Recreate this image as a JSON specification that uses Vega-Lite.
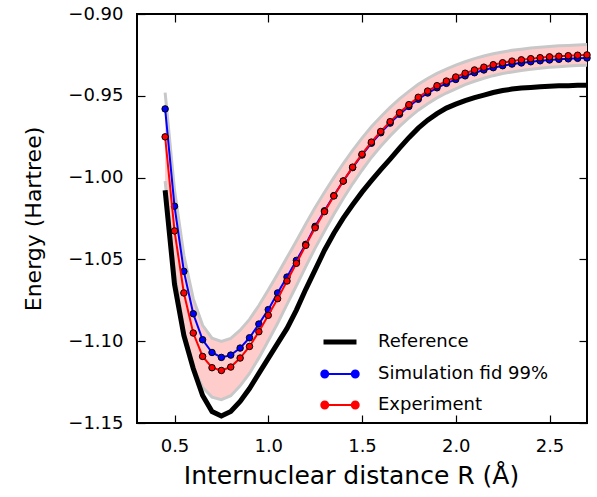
{
  "$schema": "https://vega.github.io/schema/vega-lite/v6.json",
  "autosize": "none",
  "padding": {"left": 137, "top": 14, "right": 10, "bottom": 74},
  "width": 450,
  "height": 409,
  "background": "white",
  "config": {
    "font": "DejaVu Sans",
    "view": {"stroke": "black", "strokeWidth": 2},
    "axis": {"grid": false, "domain": false, "tickColor": "black", "tickWidth": 1.2, "labelColor": "black", "titleColor": "black", "labelFont": "DejaVu Sans", "titleFont": "DejaVu Sans", "titleFontWeight": "normal"}
  },
  "datasets": {
    "curves": [
      {"R": 0.45, "series": "Experiment", "E": -0.9751}, {"R": 0.5, "series": "Experiment", "E": -1.0326}, {"R": 0.55, "series": "Experiment", "E": -1.0705}, {"R": 0.6, "series": "Experiment", "E": -1.095}, {"R": 0.65, "series": "Experiment", "E": -1.1093}, {"R": 0.7, "series": "Experiment", "E": -1.1162}, {"R": 0.75, "series": "Experiment", "E": -1.1179}, {"R": 0.8, "series": "Experiment", "E": -1.1158}, {"R": 0.85, "series": "Experiment", "E": -1.1103}, {"R": 0.9, "series": "Experiment", "E": -1.1032}, {"R": 0.95, "series": "Experiment", "E": -1.0942}, {"R": 1.0, "series": "Experiment", "E": -1.0842}, {"R": 1.05, "series": "Experiment", "E": -1.074}, {"R": 1.1, "series": "Experiment", "E": -1.0632}, {"R": 1.15, "series": "Experiment", "E": -1.0524}, {"R": 1.2, "series": "Experiment", "E": -1.0414}, {"R": 1.25, "series": "Experiment", "E": -1.0307}, {"R": 1.3, "series": "Experiment", "E": -1.0208}, {"R": 1.35, "series": "Experiment", "E": -1.0112}, {"R": 1.4, "series": "Experiment", "E": -1.0021}, {"R": 1.45, "series": "Experiment", "E": -0.9936}, {"R": 1.5, "series": "Experiment", "E": -0.9857}, {"R": 1.55, "series": "Experiment", "E": -0.9783}, {"R": 1.6, "series": "Experiment", "E": -0.9718}, {"R": 1.65, "series": "Experiment", "E": -0.9658}, {"R": 1.7, "series": "Experiment", "E": -0.9603}, {"R": 1.75, "series": "Experiment", "E": -0.9554}, {"R": 1.8, "series": "Experiment", "E": -0.9509}, {"R": 1.85, "series": "Experiment", "E": -0.9471}, {"R": 1.9, "series": "Experiment", "E": -0.9438}, {"R": 1.95, "series": "Experiment", "E": -0.941}, {"R": 2.0, "series": "Experiment", "E": -0.9385}, {"R": 2.05, "series": "Experiment", "E": -0.9362}, {"R": 2.1, "series": "Experiment", "E": -0.9342}, {"R": 2.15, "series": "Experiment", "E": -0.9325}, {"R": 2.2, "series": "Experiment", "E": -0.931}, {"R": 2.25, "series": "Experiment", "E": -0.9298}, {"R": 2.3, "series": "Experiment", "E": -0.9288}, {"R": 2.35, "series": "Experiment", "E": -0.928}, {"R": 2.4, "series": "Experiment", "E": -0.9273}, {"R": 2.45, "series": "Experiment", "E": -0.9267}, {"R": 2.5, "series": "Experiment", "E": -0.9262}, {"R": 2.55, "series": "Experiment", "E": -0.9258}, {"R": 2.6, "series": "Experiment", "E": -0.9255}, {"R": 2.65, "series": "Experiment", "E": -0.9252}, {"R": 2.7, "series": "Experiment", "E": -0.925},
      {"R": 0.45, "series": "Simulation fid 99%", "E": -0.958}, {"R": 0.5, "series": "Simulation fid 99%", "E": -1.0175}, {"R": 0.55, "series": "Simulation fid 99%", "E": -1.0573}, {"R": 0.6, "series": "Simulation fid 99%", "E": -1.0832}, {"R": 0.65, "series": "Simulation fid 99%", "E": -1.0991}, {"R": 0.7, "series": "Simulation fid 99%", "E": -1.1069}, {"R": 0.75, "series": "Simulation fid 99%", "E": -1.1099}, {"R": 0.8, "series": "Simulation fid 99%", "E": -1.1085}, {"R": 0.85, "series": "Simulation fid 99%", "E": -1.1042}, {"R": 0.9, "series": "Simulation fid 99%", "E": -1.0979}, {"R": 0.95, "series": "Simulation fid 99%", "E": -1.0895}, {"R": 1.0, "series": "Simulation fid 99%", "E": -1.0807}, {"R": 1.05, "series": "Simulation fid 99%", "E": -1.0705}, {"R": 1.1, "series": "Simulation fid 99%", "E": -1.0608}, {"R": 1.15, "series": "Simulation fid 99%", "E": -1.0506}, {"R": 1.2, "series": "Simulation fid 99%", "E": -1.0408}, {"R": 1.25, "series": "Simulation fid 99%", "E": -1.0298}, {"R": 1.3, "series": "Simulation fid 99%", "E": -1.0203}, {"R": 1.35, "series": "Simulation fid 99%", "E": -1.011}, {"R": 1.4, "series": "Simulation fid 99%", "E": -1.0021}, {"R": 1.45, "series": "Simulation fid 99%", "E": -0.9939}, {"R": 1.5, "series": "Simulation fid 99%", "E": -0.9862}, {"R": 1.55, "series": "Simulation fid 99%", "E": -0.979}, {"R": 1.6, "series": "Simulation fid 99%", "E": -0.9726}, {"R": 1.65, "series": "Simulation fid 99%", "E": -0.9667}, {"R": 1.7, "series": "Simulation fid 99%", "E": -0.9613}, {"R": 1.75, "series": "Simulation fid 99%", "E": -0.9565}, {"R": 1.8, "series": "Simulation fid 99%", "E": -0.9521}, {"R": 1.85, "series": "Simulation fid 99%", "E": -0.9483}, {"R": 1.9, "series": "Simulation fid 99%", "E": -0.9451}, {"R": 1.95, "series": "Simulation fid 99%", "E": -0.9424}, {"R": 2.0, "series": "Simulation fid 99%", "E": -0.94}, {"R": 2.05, "series": "Simulation fid 99%", "E": -0.9378}, {"R": 2.1, "series": "Simulation fid 99%", "E": -0.9359}, {"R": 2.15, "series": "Simulation fid 99%", "E": -0.9342}, {"R": 2.2, "series": "Simulation fid 99%", "E": -0.9328}, {"R": 2.25, "series": "Simulation fid 99%", "E": -0.9316}, {"R": 2.3, "series": "Simulation fid 99%", "E": -0.9306}, {"R": 2.35, "series": "Simulation fid 99%", "E": -0.9299}, {"R": 2.4, "series": "Simulation fid 99%", "E": -0.9292}, {"R": 2.45, "series": "Simulation fid 99%", "E": -0.9286}, {"R": 2.5, "series": "Simulation fid 99%", "E": -0.9281}, {"R": 2.55, "series": "Simulation fid 99%", "E": -0.9277}, {"R": 2.6, "series": "Simulation fid 99%", "E": -0.9274}, {"R": 2.65, "series": "Simulation fid 99%", "E": -0.9271}, {"R": 2.7, "series": "Simulation fid 99%", "E": -0.9269},
      {"R": 0.45, "series": "Reference", "E": -1.0077}, {"R": 0.5, "series": "Reference", "E": -1.0652}, {"R": 0.55, "series": "Reference", "E": -1.0965}, {"R": 0.6, "series": "Reference", "E": -1.1167}, {"R": 0.65, "series": "Reference", "E": -1.1332}, {"R": 0.7, "series": "Reference", "E": -1.143}, {"R": 0.75, "series": "Reference", "E": -1.1457}, {"R": 0.8, "series": "Reference", "E": -1.143}, {"R": 0.85, "series": "Reference", "E": -1.1368}, {"R": 0.9, "series": "Reference", "E": -1.1289}, {"R": 0.95, "series": "Reference", "E": -1.1197}, {"R": 1.0, "series": "Reference", "E": -1.1105}, {"R": 1.05, "series": "Reference", "E": -1.1013}, {"R": 1.1, "series": "Reference", "E": -1.0922}, {"R": 1.15, "series": "Reference", "E": -1.081}, {"R": 1.2, "series": "Reference", "E": -1.0683}, {"R": 1.25, "series": "Reference", "E": -1.0564}, {"R": 1.3, "series": "Reference", "E": -1.0444}, {"R": 1.35, "series": "Reference", "E": -1.034}, {"R": 1.4, "series": "Reference", "E": -1.0248}, {"R": 1.45, "series": "Reference", "E": -1.0166}, {"R": 1.5, "series": "Reference", "E": -1.0089}, {"R": 1.55, "series": "Reference", "E": -1.0019}, {"R": 1.6, "series": "Reference", "E": -0.9952}, {"R": 1.65, "series": "Reference", "E": -0.9887}, {"R": 1.7, "series": "Reference", "E": -0.982}, {"R": 1.75, "series": "Reference", "E": -0.9756}, {"R": 1.8, "series": "Reference", "E": -0.9698}, {"R": 1.85, "series": "Reference", "E": -0.9649}, {"R": 1.9, "series": "Reference", "E": -0.9609}, {"R": 1.95, "series": "Reference", "E": -0.9575}, {"R": 2.0, "series": "Reference", "E": -0.9551}, {"R": 2.05, "series": "Reference", "E": -0.9529}, {"R": 2.1, "series": "Reference", "E": -0.9511}, {"R": 2.15, "series": "Reference", "E": -0.9496}, {"R": 2.2, "series": "Reference", "E": -0.948}, {"R": 2.25, "series": "Reference", "E": -0.9468}, {"R": 2.3, "series": "Reference", "E": -0.9459}, {"R": 2.35, "series": "Reference", "E": -0.9453}, {"R": 2.4, "series": "Reference", "E": -0.9449}, {"R": 2.45, "series": "Reference", "E": -0.9445}, {"R": 2.5, "series": "Reference", "E": -0.9442}, {"R": 2.55, "series": "Reference", "E": -0.9439}, {"R": 2.6, "series": "Reference", "E": -0.9438}, {"R": 2.65, "series": "Reference", "E": -0.9436}, {"R": 2.7, "series": "Reference", "E": -0.9435}
    ],
    "band": [
      {"R": 0.45, "lo": -1.0021, "hi": -0.9481}, {"R": 0.5, "lo": -1.0576, "hi": -1.0076}, {"R": 0.55, "lo": -1.0935, "hi": -1.0475}, {"R": 0.6, "lo": -1.116, "hi": -1.074}, {"R": 0.65, "lo": -1.1283, "hi": -1.0903}, {"R": 0.7, "lo": -1.1342, "hi": -1.0982}, {"R": 0.75, "lo": -1.1357, "hi": -1.1001}, {"R": 0.8, "lo": -1.1333, "hi": -1.0983}, {"R": 0.85, "lo": -1.1273, "hi": -1.0933}, {"R": 0.9, "lo": -1.1197, "hi": -1.0867}, {"R": 0.95, "lo": -1.1102, "hi": -1.0782}, {"R": 1.0, "lo": -1.0997, "hi": -1.0687}, {"R": 1.05, "lo": -1.089, "hi": -1.059}, {"R": 1.1, "lo": -1.0775, "hi": -1.0489}, {"R": 1.15, "lo": -1.0661, "hi": -1.0387}, {"R": 1.2, "lo": -1.0544, "hi": -1.0284}, {"R": 1.25, "lo": -1.0431, "hi": -1.0183}, {"R": 1.3, "lo": -1.0326, "hi": -1.009}, {"R": 1.35, "lo": -1.0224, "hi": -1.0}, {"R": 1.4, "lo": -1.0128, "hi": -0.9914}, {"R": 1.45, "lo": -1.0038, "hi": -0.9834}, {"R": 1.5, "lo": -0.9955, "hi": -0.9759}, {"R": 1.55, "lo": -0.9877, "hi": -0.9689}, {"R": 1.6, "lo": -0.9808, "hi": -0.9628}, {"R": 1.65, "lo": -0.9745, "hi": -0.9571}, {"R": 1.7, "lo": -0.9687, "hi": -0.9519}, {"R": 1.75, "lo": -0.9635, "hi": -0.9473}, {"R": 1.8, "lo": -0.9588, "hi": -0.943}, {"R": 1.85, "lo": -0.9548, "hi": -0.9394}, {"R": 1.9, "lo": -0.9513, "hi": -0.9363}, {"R": 1.95, "lo": -0.9483, "hi": -0.9337}, {"R": 2.0, "lo": -0.9457, "hi": -0.9313}, {"R": 2.05, "lo": -0.9432, "hi": -0.9292}, {"R": 2.1, "lo": -0.9411, "hi": -0.9273}, {"R": 2.15, "lo": -0.9393, "hi": -0.9257}, {"R": 2.2, "lo": -0.9377, "hi": -0.9243}, {"R": 2.25, "lo": -0.9364, "hi": -0.9232}, {"R": 2.3, "lo": -0.9354, "hi": -0.9222}, {"R": 2.35, "lo": -0.9345, "hi": -0.9215}, {"R": 2.4, "lo": -0.9338, "hi": -0.9208}, {"R": 2.45, "lo": -0.9331, "hi": -0.9203}, {"R": 2.5, "lo": -0.9326, "hi": -0.9198}, {"R": 2.55, "lo": -0.9322, "hi": -0.9194}, {"R": 2.6, "lo": -0.9318, "hi": -0.9192}, {"R": 2.65, "lo": -0.9315, "hi": -0.9189}, {"R": 2.7, "lo": -0.9313, "hi": -0.9187}
    ]
  },
  "resolve": {"axis": {"x": "independent", "y": "independent"}},
  "layer": [
    {
      "data": {"name": "band"},
      "mark": {"type": "area", "color": "#ffcccc", "opacity": 1},
      "encoding": {
        "x": {"field": "R", "type": "quantitative", "scale": {"domain": [0.3, 2.7], "nice": false, "zero": false},
          "axis": {"orient": "bottom", "values": [0.5, 1.0, 1.5, 2.0, 2.5], "format": ".1f", "tickSize": -8, "labelFontSize": 18, "labelPadding": 22, "title": "Internuclear distance R (Å)", "titleFontSize": 25, "titlePadding": 8, "titleX": 214, "titleAnchor": "middle"}},
        "y": {"field": "lo", "type": "quantitative", "scale": {"domain": [-1.15, -0.9], "nice": false, "zero": false},
          "axis": {"orient": "left", "values": [-1.15, -1.1, -1.05, -1.0, -0.95, -0.9], "format": ".2f", "tickSize": -8, "labelFontSize": 18, "labelPadding": 22, "title": "Energy (Hartree)", "titleFontSize": 22, "titlePadding": 22}},
        "y2": {"field": "hi"}
      }
    },
    {
      "data": {"name": "band"},
      "mark": {"type": "line", "color": "#c8c8c8", "strokeWidth": 3},
      "encoding": {
        "x": {"field": "R", "type": "quantitative", "axis": {"orient": "top", "values": [0.5, 1.0, 1.5, 2.0, 2.5], "tickSize": -8, "labels": false, "title": null}},
        "y": {"field": "lo", "type": "quantitative", "axis": {"orient": "right", "values": [-1.15, -1.1, -1.05, -1.0, -0.95, -0.9], "tickSize": -8, "labels": false, "title": null}}
      }
    },
    {
      "data": {"name": "band"},
      "mark": {"type": "line", "color": "#c8c8c8", "strokeWidth": 3},
      "encoding": {
        "x": {"field": "R", "type": "quantitative", "axis": null},
        "y": {"field": "hi", "type": "quantitative", "axis": null}
      }
    },
    {
      "data": {"name": "curves"},
      "transform": [{"filter": "datum.series === 'Reference'"}],
      "mark": {"type": "line", "strokeWidth": 5},
      "encoding": {
        "x": {"field": "R", "type": "quantitative", "axis": null},
        "y": {"field": "E", "type": "quantitative", "axis": null},
        "color": {"field": "series", "type": "nominal",
          "scale": {"domain": ["Reference", "Simulation fid 99%", "Experiment"], "range": ["black", "#0000ff", "#ff0000"]},
          "legend": {"title": null, "orient": "none", "legendX": 194, "legendY": 319, "padding": 0, "labelFontSize": 18, "labelFont": "DejaVu Sans", "labelColor": "black", "labelLimit": 0, "symbolSize": 272, "rowPadding": 13, "labelOffset": 29, "symbolStrokeWidth": 2,
            "symbolType": "M-2,0L2,0M-2.27,0A0.42,0.42,0,1,1,-1.43,0A0.42,0.42,0,1,1,-2.27,0ZM1.43,0A0.42,0.42,0,1,1,2.27,0A0.42,0.42,0,1,1,1.43,0Z",
            "encode": {"symbols": {"update": {
              "shape": {"signal": "datum.value === 'Reference' ? 'M-2,0L2,0' : 'M-2,0L2,0M-2.27,0A0.42,0.42,0,1,1,-1.43,0A0.42,0.42,0,1,1,-2.27,0ZM1.43,0A0.42,0.42,0,1,1,2.27,0A0.42,0.42,0,1,1,1.43,0Z'"},
              "strokeWidth": {"signal": "datum.value === 'Reference' ? 5 : 2"},
              "fill": {"signal": "datum.value === 'Reference' ? 'transparent' : (datum.value === 'Experiment' ? '#ff0000' : '#0000ff')"},
              "stroke": {"signal": "datum.value === 'Reference' ? 'black' : (datum.value === 'Experiment' ? '#ff0000' : '#0000ff')"},
              "opacity": {"value": 1}
            }}}}
        }
      }
    },
    {
      "data": {"name": "curves"},
      "transform": [{"filter": "datum.series === 'Simulation fid 99%'"}],
      "mark": {"type": "line", "strokeWidth": 2},
      "encoding": {
        "x": {"field": "R", "type": "quantitative", "axis": null},
        "y": {"field": "E", "type": "quantitative", "axis": null},
        "color": {"field": "series", "type": "nominal", "legend": null}
      }
    },
    {
      "data": {"name": "curves"},
      "transform": [{"filter": "datum.series === 'Simulation fid 99%'"}],
      "mark": {"type": "point", "filled": true, "stroke": "black", "strokeWidth": 1, "size": 42, "opacity": 1, "shape": "circle"},
      "encoding": {
        "x": {"field": "R", "type": "quantitative", "axis": null},
        "y": {"field": "E", "type": "quantitative", "axis": null},
        "fill": {"field": "series", "type": "nominal", "scale": {"domain": ["Simulation fid 99%", "Experiment"], "range": ["#0000ff", "#ff0000"]}, "legend": null}
      }
    },
    {
      "data": {"name": "curves"},
      "transform": [{"filter": "datum.series === 'Experiment'"}],
      "mark": {"type": "line", "strokeWidth": 2},
      "encoding": {
        "x": {"field": "R", "type": "quantitative", "axis": null},
        "y": {"field": "E", "type": "quantitative", "axis": null},
        "color": {"field": "series", "type": "nominal", "legend": null}
      }
    },
    {
      "data": {"name": "curves"},
      "transform": [{"filter": "datum.series === 'Experiment'"}],
      "mark": {"type": "point", "filled": true, "stroke": "black", "strokeWidth": 1, "size": 42, "opacity": 1, "shape": "circle"},
      "encoding": {
        "x": {"field": "R", "type": "quantitative", "axis": null},
        "y": {"field": "E", "type": "quantitative", "axis": null},
        "fill": {"field": "series", "type": "nominal", "legend": null}
      }
    }
  ]
}
